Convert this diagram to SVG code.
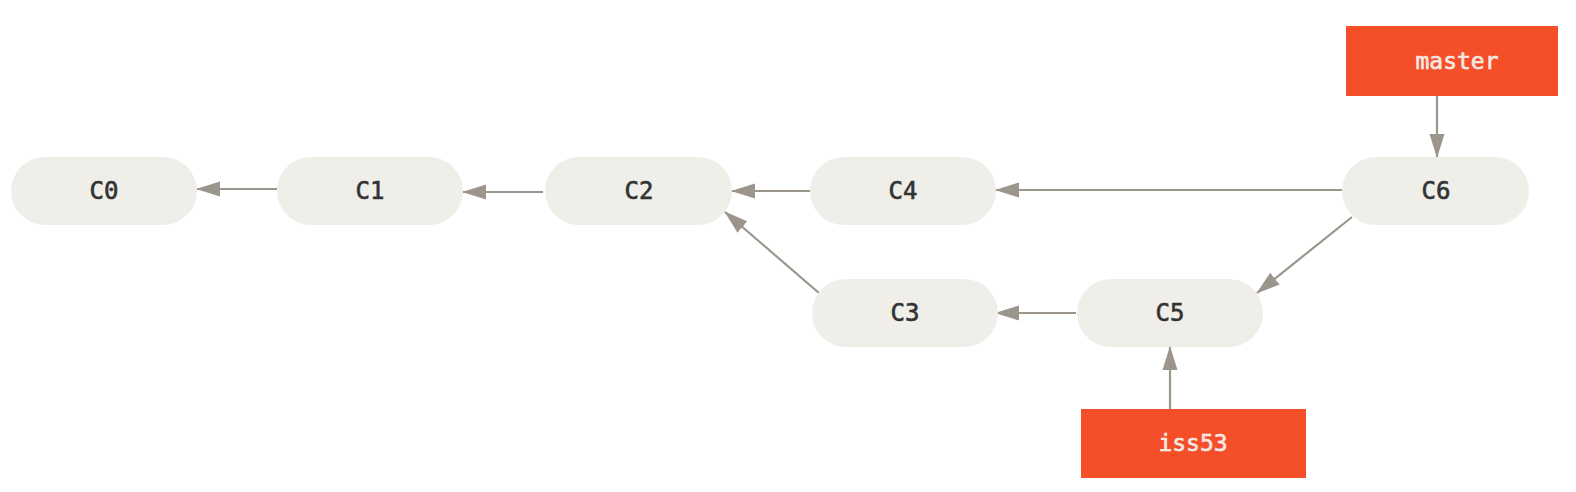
<svg xmlns="http://www.w3.org/2000/svg" width="1576" height="492" viewBox="0 0 1576 492">
<defs>
<marker id="ah" markerWidth="24" markerHeight="16" refX="23" refY="8" orient="auto" markerUnits="userSpaceOnUse">
<path d="M0,0.5 L24,8 L0,15.5 Z" fill="#9b958c"/>
</marker>
<style>
.node rect{fill:#efeee8}
.node text{font-family:"DejaVu Sans Mono","Liberation Mono",monospace;font-size:24px;fill:#333;stroke:#333;stroke-width:0.6;text-anchor:middle;dominant-baseline:central}
.branch rect{fill:#f44f29}
.branch text{font-family:"DejaVu Sans Mono","Liberation Mono",monospace;font-size:23px;fill:#f4e9e4;stroke:#f4e9e4;stroke-width:0.6;text-anchor:middle;dominant-baseline:central}
.edges line{stroke:#9b958c;stroke-width:2.2;marker-end:url(#ah)}
</style>
</defs>
<rect width="1576" height="492" fill="#ffffff"/>
<g class="edges">
<line x1="277" y1="189" x2="197" y2="189"/>
<line x1="543" y1="192" x2="463" y2="192"/>
<line x1="810" y1="191" x2="732" y2="191"/>
<line x1="1342" y1="190" x2="996" y2="190"/>
<line x1="819" y1="293" x2="725" y2="212"/>
<line x1="1076" y1="313" x2="996" y2="313"/>
<line x1="1352" y1="217" x2="1257" y2="293"/>
<line x1="1437" y1="96" x2="1437" y2="157"/>
<line x1="1170" y1="409" x2="1170" y2="347"/>
</g>
<g id="C0" class="node"><rect x="11" y="157" width="186" height="68" rx="34"/><text x="104" y="191">C0</text></g>
<g id="C1" class="node"><rect x="277" y="157" width="186" height="68" rx="34"/><text x="370" y="191">C1</text></g>
<g id="C2" class="node"><rect x="545" y="157" width="187" height="68" rx="34"/><text x="639" y="191">C2</text></g>
<g id="C4" class="node"><rect x="810" y="157" width="186" height="68" rx="34"/><text x="903" y="191">C4</text></g>
<g id="C6" class="node"><rect x="1342" y="157" width="187" height="68" rx="34"/><text x="1436" y="191">C6</text></g>
<g id="C3" class="node"><rect x="812" y="279" width="186" height="68" rx="34"/><text x="905" y="313">C3</text></g>
<g id="C5" class="node"><rect x="1077" y="279" width="186" height="68" rx="34"/><text x="1170" y="313">C5</text></g>
<g id="master" class="branch"><rect x="1346" y="26" width="212" height="70"/><text x="1457" y="61">master</text></g>
<g id="iss53" class="branch"><rect x="1081" y="409" width="225" height="69"/><text x="1193" y="443">iss53</text></g>
</svg>
